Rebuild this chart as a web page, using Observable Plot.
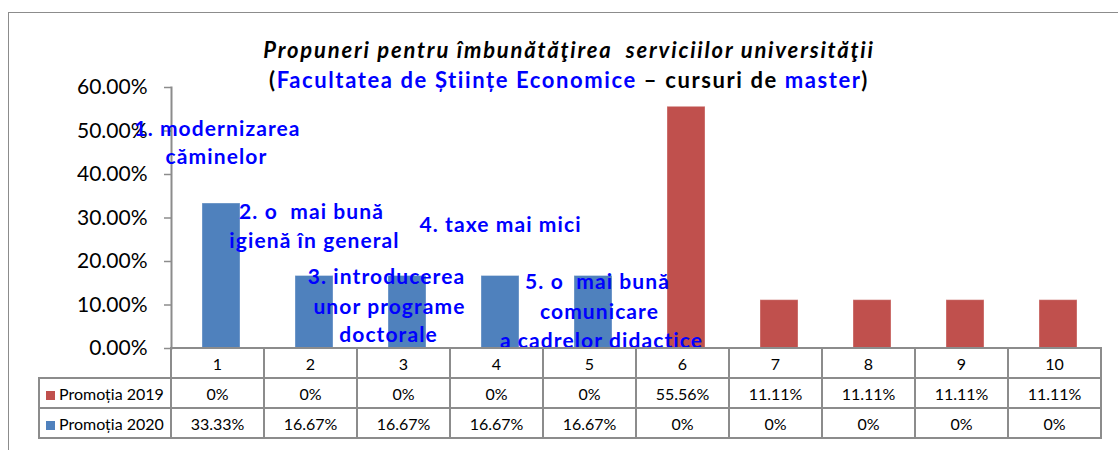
<!DOCTYPE html>
<html><head><meta charset="utf-8">
<script src="https://cdn.jsdelivr.net/npm/d3@7"></script>
<script src="https://cdn.jsdelivr.net/npm/@observablehq/plot@0.6"></script>
<style>
body{margin:0;background:#fff;font-family:Lato,"Open Sans",sans-serif}
#wrap{position:relative;width:1118px;height:450px;overflow:hidden;background:#fff}
#border{position:absolute;left:8px;top:12px;width:1200px;height:500px;border:1.5px solid #8c8c8c;box-sizing:border-box}
#chart{position:absolute;left:0;top:0}
#title{position:absolute;left:0;top:35px;width:1138px;text-align:center;font-weight:bold;font-size:22px;line-height:30px;color:#000;white-space:pre;letter-spacing:1.6px}
#title .l1{font-style:italic;letter-spacing:1.8px}
#title .b{color:#0000FF}
.note text{letter-spacing:1.1px}
#tbl{position:absolute;border-collapse:collapse;table-layout:fixed;font-size:16px;color:#000}
#tbl td{border:2px solid #8c8c8c;text-align:center;padding:0;height:28px;white-space:nowrap;overflow:hidden}
#tbl td.empty{border:none}
#tbl td.hdr{text-align:left;padding-left:6px}
#tbl .sw{display:inline-block;width:9px;height:9px;margin-right:4px;vertical-align:0px}
</style></head>
<body>
<div id="wrap">
  <div id="border"></div>
  <div id="chart"></div>
  <div id="title"><div class="l1">Propuneri pentru îmbunătăţirea  serviciilor universităţii</div><div>(<span class="b">Facultatea de Științe Economice</span> – cursuri de <span class="b">master</span>)</div></div>
</div>
<script>
// ---- data ----
const categories = ["1","2","3","4","5","6","7","8","9","10"];
const seriesNames = ["Promoția 2019","Promoția 2020"];
const promotia2019 = [0,0,0,0,0,0.5556,0.1111,0.1111,0.1111,0.1111];
const promotia2020 = [0.3333,0.1667,0.1667,0.1667,0.1667,0,0,0,0,0];
const seriesColors = ["#C0504D","#4F81BD"];
const yTicks = [0,0.1,0.2,0.3,0.4,0.5,0.6];
const noteLines = ["1. modernizarea","căminelor","2. o  mai bună","igienă în general","3. introducerea","unor programe","doctorale","4. taxe mai mici","5. o  mai bună","comunicare","a cadrelor didactice"];
const noteCats = ["1","1","2","2","3","3","3","4","5","5","5"];
const noteValues = [0.504,0.440,0.314,0.247,0.164,0.095,0.031,0.284,0.153,0.084,0.017];

// ---- build ----
const seriesValues = [promotia2019, promotia2020];
const rows = [];
seriesNames.forEach((s, si) => categories.forEach((c, ci) => rows.push({series: s, cat: c, value: seriesValues[si][ci]})));
const noteShift = [-4,-5,-3,0,-21,-18,-19,0,4,6,8];

const noteMarks = noteLines.map((t, i) => Plot.text([{t, cat: noteCats[i], v: noteValues[i]}], {
  x: "cat", y: "v", text: "t", dx: noteShift[i],
  fill: "#0000FF", fontSize: 21, fontWeight: "bold", textAnchor: "middle", lineAnchor: "middle",
  className: "note"
}));

const chart = Plot.plot({
  width: 1118, height: 350,
  marginTop: 87, marginBottom: 2, marginLeft: 171, marginRight: 10,
  style: {fontFamily: "Lato, 'Open Sans', sans-serif", background: "transparent", color: "#000", overflow: "visible"},
  x: {domain: categories, paddingInner: 0.59, paddingOuter: 0.295, axis: null},
  y: {domain: [0, 0.6], axis: null},
  color: {domain: seriesNames, range: seriesColors},
  marks: [
    Plot.barY(rows, {x: "cat", y: "value", fill: "series", stroke: "#ffffff", strokeOpacity: 0.35, strokeWidth: 1}),
    Plot.axisY({ticks: yTicks, tickFormat: d => (d * 100).toFixed(2) + "%", tickSize: 7, tickPadding: 17, fontSize: 21, stroke: "#8c8c8c", strokeWidth: 1.5, fill: "#000"}),
    Plot.frame({anchor: "left", stroke: "#8c8c8c", strokeWidth: 2}),
    ...noteMarks
  ]
});
document.getElementById("chart").appendChild(chart);

// ---- data table below the plot, aligned with the x scale ----
const xs = chart.scale("x");
const ys = chart.scale("y");
const step = xs.step;
const x0 = xs.range[0];
const headerLeft = 39;
const fmt = v => v === 0 ? "0%" : (v * 100).toFixed(2) + "%";
const tbl = document.createElement("table");
tbl.id = "tbl";
tbl.style.left = (headerLeft - 1) + "px";
tbl.style.top = (ys.apply(0) - 1) + "px";
tbl.style.width = (x0 - headerLeft + step * categories.length + 2) + "px";
const cg = document.createElement("colgroup");
const c0 = document.createElement("col"); c0.style.width = (x0 - headerLeft) + "px"; cg.appendChild(c0);
categories.forEach(() => { const c = document.createElement("col"); c.style.width = step + "px"; cg.appendChild(c); });
tbl.appendChild(cg);
const tr0 = document.createElement("tr");
const e = document.createElement("td"); e.className = "empty"; tr0.appendChild(e);
categories.forEach(c => { const td = document.createElement("td"); td.textContent = c; tr0.appendChild(td); });
tbl.appendChild(tr0);
seriesNames.forEach((s, si) => {
  const tr = document.createElement("tr");
  const h = document.createElement("td"); h.className = "hdr";
  const sw = document.createElement("span"); sw.className = "sw"; sw.style.background = seriesColors[si];
  h.appendChild(sw); h.appendChild(document.createTextNode(s));
  tr.appendChild(h);
  seriesValues[si].forEach(v => { const td = document.createElement("td"); td.textContent = fmt(v); tr.appendChild(td); });
  tbl.appendChild(tr);
});
document.getElementById("wrap").appendChild(tbl);
</script>
</body></html>
